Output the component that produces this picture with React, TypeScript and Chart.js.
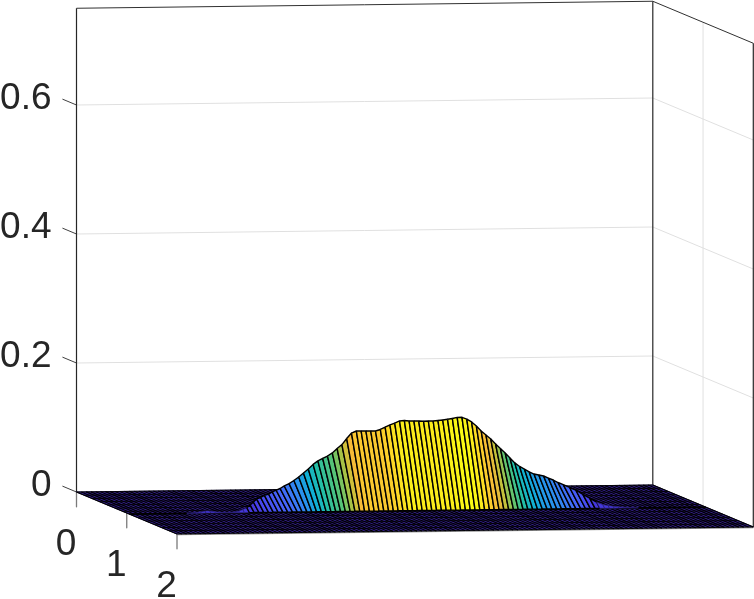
import React, { useEffect, useRef } from "react";
import { Chart, registerables } from "chart.js";

Chart.register(...registerables);

const zTicks = [0, 0.2, 0.4, 0.6];
const zTickLabels = ["0", "0.2", "0.4", "0.6"];
const yTicks = [0, 1, 2];
const yTickLabels = ["0", "1", "2"];
const zTop = 0.75;

// Height of the ridge along the x direction, read column by column (121 columns)
const ridgeHeights = [
  0, 0, 0, 0, 0, 0, 0, 0, 0, 0, 0, 0, 0,
  0.0005, 0.001, 0.0015, 0.0026, 0.0026, 0.0014, 0.0008, 0.0004, 0.0006, 0.0008, 0.0021, 0.0038,
  0.006, 0.009, 0.0127, 0.0163, 0.018, 0.0205, 0.022, 0.0245, 0.0265, 0.0285,
  0.0319, 0.0354, 0.0402, 0.0456, 0.0516, 0.0578, 0.0648, 0.0701, 0.0738, 0.0775,
  0.0822, 0.089, 0.095, 0.1043, 0.1127, 0.1158, 0.1157, 0.1156, 0.1155, 0.1154,
  0.1177, 0.1214, 0.1245, 0.1274, 0.1305, 0.1312, 0.1302, 0.1301, 0.13, 0.1296,
  0.1299, 0.1298, 0.1305, 0.1312, 0.1322, 0.1334, 0.1349, 0.135, 0.1322, 0.1276,
  0.1212, 0.1135, 0.1071, 0.1008, 0.093, 0.0859, 0.0789, 0.071, 0.0633, 0.0577,
  0.0536, 0.049, 0.0457, 0.0442, 0.0425, 0.0392, 0.0361, 0.0321, 0.029, 0.0255,
  0.0224, 0.017, 0.0125, 0.0075, 0.0045, 0.0032, 0.0023, 0.0015, 0.001, 0.0006,
  0.0003, 0, 0, 0, 0, 0, 0, 0, 0, 0, 0, 0, 0, 0, 0, 0,
];

const floorRows = 13;
const yMax = 2;
const ridgeFront = 1.05;
const ridgeDepth = 0.26;

const parula: number[][] = [
  [62, 38, 168], [71, 60, 232], [70, 100, 250], [45, 140, 240], [15, 175, 215],
  [35, 190, 165], [90, 195, 115], [185, 194, 60], [245, 186, 56], [253, 212, 40], [250, 250, 20],
];

function colorOf(t: number) {
  const p = Math.max(0, Math.min(1, t)) * (parula.length - 1);
  const a = Math.floor(p);
  const b = Math.min(parula.length - 1, a + 1);
  const f = p - a;
  const c = parula[a].map((v, k) => Math.round(v + (parula[b][k] - v) * f));
  return `rgb(${c[0]},${c[1]},${c[2]})`;
}

// orthographic view of the 3D axes
function project(u: number, v: number, z: number) {
  return {
    x: 76.5 + 576.3 * u + 50.25 * v,
    y: 492 - 7 * u + 21 * v - 645 * z,
  };
}

function ridgeBack(z: number) {
  return ridgeFront - ridgeDepth * Math.min(1, z / 0.03);
}

function line(points: { x: number; y: number }[], color: string, width: number, fillColor?: string) {
  return {
    data: points,
    showLine: true,
    pointRadius: 0,
    borderColor: color,
    borderWidth: width,
    backgroundColor: fillColor || "transparent",
    fill: fillColor ? "shape" : false,
    tension: 0,
    clip: false,
    borderJoinStyle: "round",
  };
}

function buildDatasets() {
  const layers: any[] = [];
  const grid = "#e0e0e0";
  const box = "#262626";
  const tick = "#7a7a7a";

  zTicks.forEach((z) => {
    layers.push(line([project(0, 0, z), project(1, 0, z), project(1, yMax, z)], grid, 1));
    layers.push(line([project(0, 0, z), project(0, -0.28, z)], "#404040", 1));
  });
  layers.push(line([project(1, 1, 0), project(1, 1, zTop)], grid, 1));
  yTicks.forEach((v) => {
    layers.push(line([project(0, v, 0), project(0, v, -0.023)], tick, 1.3));
  });
  layers.push(line([project(0, 0, 0), project(0, 0, zTop)], box, 1.2));
  layers.push(line([project(1, 0, 0), project(1, 0, zTop)], box, 1.2));
  layers.push(line([project(1, yMax, 0), project(1, yMax, zTop)], box, 1.2));
  layers.push(line([project(0, 0, zTop), project(1, 0, zTop), project(1, yMax, zTop)], "#303030", 1));

  // floor sheet
  const n = ridgeHeights.length - 1;
  layers.push(
    line(
      [project(0, 0, 0), project(1, 0, 0), project(1, yMax, 0), project(0, yMax, 0), project(0, 0, 0)],
      "#20194f",
      1,
      colorOf(0)
    )
  );
  layers.push(line([project(0, yMax, -0.0012), project(1, yMax, -0.0012)], "#8a8a8a", 1));
  for (let j = 0; j <= floorRows; j++) {
    const v = (j / floorRows) * yMax;
    layers.push(line([project(0, v, 0), project(1, v, 0)], "#000000", 0.8));
  }
  for (let i = 0; i <= n; i++) {
    const u = i / n;
    layers.push(line([project(u, 0, 0), project(u, yMax, 0)], "#000000", 1.2));
  }
  layers.push(line([project(0, ridgeFront, 0), project(1, ridgeFront, 0)], "#000000", 1.6));

  // ridge wall cells
  const zMax = Math.max(...ridgeHeights);
  for (let i = 0; i < n; i++) {
    const a = ridgeHeights[i];
    const b = ridgeHeights[i + 1];
    if (a === 0 && b === 0) continue;
    const u0 = i / n;
    const u1 = (i + 1) / n;
    const pts = [
      project(u0, ridgeBack(a), a),
      project(u1, ridgeBack(b), b),
      project(u1, ridgeFront, 0),
      project(u0, ridgeFront, 0),
      project(u0, ridgeBack(a), a),
    ];
    const low = Math.max(a, b) < 0.008;
    layers.push(
      line(pts, low ? "#2a1f70" : "#000000", low ? 0.7 : 1.4, colorOf(Math.max((a + b) / 2 / zMax, 0.08)))
    );
  }
  return layers.reverse();
}

const tickLabelPlugin = {
  id: "tickLabelPlugin",
  afterDatasetsDraw(chart: any) {
    const { ctx, scales } = chart;
    ctx.save();
    ctx.font = '37px "Liberation Sans"';
    ctx.fillStyle = "#262626";
    ctx.textBaseline = "middle";
    zTicks.forEach((z, k) => {
      const p = project(0, 0, z);
      ctx.textAlign = "right";
      ctx.fillText(zTickLabels[k], scales.x.getPixelForValue(p.x) - 25, scales.y.getPixelForValue(p.y) - 6);
    });
    yTicks.forEach((v, k) => {
      const p = project(0, v, 0);
      ctx.textAlign = "center";
      ctx.fillText(yTickLabels[k], scales.x.getPixelForValue(p.x) - 10.5, scales.y.getPixelForValue(p.y) + 53);
    });
    ctx.restore();
  },
};

export default function App() {
  const ref = useRef<HTMLCanvasElement>(null);
  useEffect(() => {
    const chart = new Chart(ref.current as HTMLCanvasElement, {
      type: "scatter",
      data: { datasets: buildDatasets() as any },
      options: {
        animation: false,
        responsive: false,
        devicePixelRatio: 1,
        layout: { padding: 0 },
        events: [],
        plugins: { legend: { display: false }, tooltip: { enabled: false } },
        scales: {
          x: { type: "linear", min: 0, max: 754, display: false },
          y: { type: "linear", min: 0, max: 599, reverse: true, display: false },
        },
      } as any,
      plugins: [tickLabelPlugin as any],
    });
    return () => chart.destroy();
  }, []);
  return (
    <canvas
      ref={ref}
      width={754}
      height={599}
      style={{ position: "absolute", left: 0, top: 0, width: 754, height: 599, background: "#fff" }}
    />
  );
}
